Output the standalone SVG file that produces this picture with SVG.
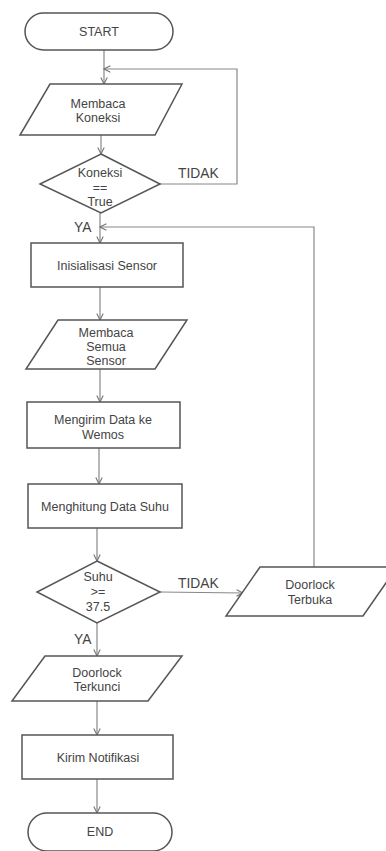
<svg xmlns="http://www.w3.org/2000/svg" width="386" height="851" viewBox="0 0 386 851">
<defs>
<marker id="arr" viewBox="0 0 10 10" refX="9" refY="5" markerWidth="8" markerHeight="8" markerUnits="userSpaceOnUse" orient="auto">
<path d="M1,1 L9,5 L1,9" fill="none" stroke="#777" stroke-width="1.4"/>
</marker>
</defs>
<style>
.s{fill:#fff;stroke:#555;stroke-width:1.5}
.t{font-family:"Liberation Sans",Arial,sans-serif;font-size:12.5px;fill:#444;text-anchor:middle}
.l{font-family:"Liberation Sans",Arial,sans-serif;font-size:13.8px;fill:#444}
.c{fill:none;stroke:#888;stroke-width:1.2;marker-end:url(#arr)}
</style>
<rect width="386" height="851" fill="#fff"/>
<g id="connectors">
<path class="c" d="M104,50 L104,84"/>
<path class="c" d="M160,184 L237,184 L237,69 L104,69"/>
<path class="c" d="M101,135 L101,154"/>
<path class="c" d="M100,213 L100,243"/>
<path class="c" d="M314,567 L314,227 L100,227"/>
<path class="c" d="M100,287 L100,320"/>
<path class="c" d="M100,369 L100,402"/>
<path class="c" d="M99,448 L99,484"/>
<path class="c" d="M97,528 L97,561"/>
<path class="c" d="M160,592 L243,593"/>
<path class="c" d="M97,623 L97,656"/>
<path class="c" d="M97,701 L97,735"/>
<path class="c" d="M97,779 L97,813"/>
</g>
<g id="start">
<rect class="s" x="25" y="13" width="148" height="37" rx="18.5"/>
<text class="t" x="99" y="36">START</text>
</g>
<g id="membaca-koneksi">
<polygon class="s" points="50,84 182,84 155,135 20,135"/>
<text class="t" x="98" y="108">Membaca</text>
<text class="t" x="98" y="122">Koneksi</text>
</g>
<g id="koneksi-true">
<polygon class="s" points="101,154 160,184 101,213 40,184"/>
<text class="t" x="100" y="177">Koneksi</text>
<text class="t" x="100" y="192">==</text>
<text class="t" x="100" y="206">True</text>
</g>
<text class="l" x="178" y="178">TIDAK</text>
<text class="l" x="74" y="232">YA</text>
<g id="inisialisasi-sensor">
<rect class="s" x="31" y="243" width="152" height="44"/>
<text class="t" x="107" y="269.5">Inisialisasi Sensor</text>
</g>
<g id="membaca-semua-sensor">
<polygon class="s" points="58,320 187,320 155,369 26,369"/>
<text class="t" x="106" y="336.5">Membaca</text>
<text class="t" x="106" y="350.5">Semua</text>
<text class="t" x="106" y="364.5">Sensor</text>
</g>
<g id="mengirim-data">
<rect class="s" x="27" y="402" width="153" height="46"/>
<text class="t" x="103" y="423.5">Mengirim Data ke</text>
<text class="t" x="103" y="438.5">Wemos</text>
</g>
<g id="menghitung-data-suhu">
<rect class="s" x="28" y="484" width="154" height="44"/>
<text class="t" x="105" y="511">Menghitung Data Suhu</text>
</g>
<g id="suhu-check">
<polygon class="s" points="97,561 160,592 97,623 37,592"/>
<text class="t" x="98" y="581">Suhu</text>
<text class="t" x="98" y="596">&gt;=</text>
<text class="t" x="98" y="610.5">37.5</text>
</g>
<text class="l" x="178" y="588">TIDAK</text>
<text class="l" x="74" y="644">YA</text>
<g id="doorlock-terbuka">
<polygon class="s" points="260,567 397,567 363,616 226,616"/>
<text class="t" x="310" y="588.5">Doorlock</text>
<text class="t" x="310" y="603.5">Terbuka</text>
</g>
<g id="doorlock-terkunci">
<polygon class="s" points="45,656 182,656 148,701 12,701"/>
<text class="t" x="97" y="676.5">Doorlock</text>
<text class="t" x="97" y="690.5">Terkunci</text>
</g>
<g id="kirim-notifikasi">
<rect class="s" x="22" y="735" width="151" height="44"/>
<text class="t" x="98" y="762">Kirim Notifikasi</text>
</g>
<g id="end">
<rect class="s" x="28" y="813" width="144" height="38" rx="19"/>
<text class="t" x="100" y="836">END</text>
</g>
</svg>
